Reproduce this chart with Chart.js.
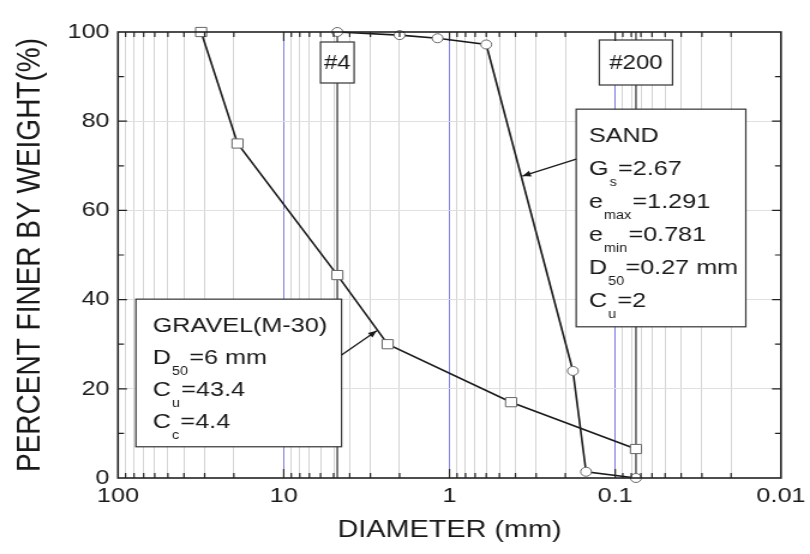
<!DOCTYPE html>
<html>
<head>
<meta charset="utf-8">
<script src="https://cdn.jsdelivr.net/npm/chart.js@4.4.1/dist/chart.umd.min.js"></script>
<style>
  html, body { margin: 0; padding: 0; background: #fff; }
  canvas { display: block; }
</style>
</head>
<body>
<!-- the source figure is stretched sideways, so the canvas is drawn narrow and widened by css -->
<canvas id="chart" width="675" height="554" style="width:810px;height:554px"></canvas>
<script>
// sieve size (mm) vs percent passing
const gravelSize = [31.5, 19, 4.75, 2.36, 0.425, 0.075];
const gravelPassing = [100, 75, 45.5, 30, 17, 6.5];
const sandSize = [4.75, 2, 1.18, 0.6, 0.18, 0.15, 0.075];
const sandPassing = [100, 99.3, 98.6, 97.2, 24, 1.4, 0];

const xDecades = [100, 10, 1, 0.1, 0.01];
const xTickLabels = ["100", "10", "1", "0.1", "0.01"];
const yTickValues = [0, 20, 40, 60, 80, 100];

const sieveLabels = ["#4", "#200"];
const sieveSizes = [4.75, 0.075];

// [text, isSubscript]
const sandNotes = [
  [["SAND", 0]],
  [["G", 0], ["s", 1], ["=2.67", 0]],
  [["e", 0], ["max", 1], ["=1.291", 0]],
  [["e", 0], ["min", 1], ["=0.781", 0]],
  [["D", 0], ["50", 1], ["=0.27 mm", 0]],
  [["C", 0], ["u", 1], ["=2", 0]]
];
const gravelNotes = [
  [["GRAVEL(M-30)", 0]],
  [["D", 0], ["50", 1], ["=6 mm", 0]],
  [["C", 0], ["u", 1], ["=43.4", 0]],
  [["C", 0], ["c", 1], ["=4.4", 0]]
];

const FONT = "'Liberation Sans', Arial, sans-serif";
const INK = "#1a1a1a";

// minor ticks 1..9 in every decade
const xTickValues = [];
for (let e = -2; e <= 1; e++) {
  for (let m = 1; m <= 9; m++) xTickValues.push(+(m * Math.pow(10, e)).toPrecision(6));
}
xTickValues.push(100);

function isDecade(v) {
  const l = Math.log10(v);
  return Math.abs(l - Math.round(l)) < 1e-6;
}

function drawRich(ctx, parts, x, y) {
  let cx = x;
  parts.forEach(([text, sub]) => {
    if (sub) {
      ctx.font = "12px " + FONT;
      ctx.fillText(text, cx + 1, y + 11);
      cx += ctx.measureText(text).width + 2;
    } else {
      ctx.font = "21px " + FONT;
      ctx.fillText(text, cx, y);
      cx += ctx.measureText(text).width;
    }
  });
}

function drawBox(ctx, l, t, r, b) {
  ctx.fillStyle = "#fff";
  ctx.fillRect(l, t, r - l, b - t);
  ctx.strokeStyle = "#333";
  ctx.lineWidth = 1.2;
  ctx.strokeRect(l, t, r - l, b - t);
}

function drawArrow(ctx, x0, y0, x1, y1) {
  ctx.strokeStyle = INK;
  ctx.fillStyle = INK;
  ctx.lineWidth = 1.3;
  ctx.beginPath();
  ctx.moveTo(x0, y0);
  ctx.lineTo(x1, y1);
  ctx.stroke();
  const ang = Math.atan2(y1 - y0, x1 - x0);
  ctx.beginPath();
  ctx.moveTo(x1, y1);
  ctx.lineTo(x1 - 7 * Math.cos(ang) + 3 * Math.sin(ang), y1 - 7 * Math.sin(ang) - 3 * Math.cos(ang));
  ctx.lineTo(x1 - 7 * Math.cos(ang) - 3 * Math.sin(ang), y1 - 7 * Math.sin(ang) + 3 * Math.cos(ang));
  ctx.closePath();
  ctx.fill();
}

const notesPlugin = {
  id: "notes",
  beforeDatasetsDraw(chart) {
    const { ctx, chartArea: a, scales: { x } } = chart;
    ctx.save();
    ctx.strokeStyle = "#555";
    ctx.lineWidth = 1.5;
    sieveSizes.forEach(s => {
      const px = x.getPixelForValue(s);
      ctx.beginPath();
      ctx.moveTo(px, a.top);
      ctx.lineTo(px, a.bottom);
      ctx.stroke();
    });
    ctx.restore();
  },
  afterDatasetsDraw(chart) {
    const { ctx, chartArea: a, scales: { x, y } } = chart;
    ctx.save();
    ctx.textBaseline = "alphabetic";
    ctx.textAlign = "left";

    // SAND box
    let l = x.getPixelForValue(0.172), r = x.getPixelForValue(0.0163);
    let t = y.getPixelForValue(82.7), b = y.getPixelForValue(33.9);
    drawBox(ctx, l, t, r, b);
    ctx.fillStyle = INK;
    sandNotes.forEach((row, i) => drawRich(ctx, row, l + 10.5, t + 33 + i * 33));
    drawArrow(ctx, l, y.getPixelForValue(71.5), x.getPixelForValue(0.363), y.getPixelForValue(67.7));

    // GRAVEL box
    l = x.getPixelForValue(78); r = x.getPixelForValue(4.48);
    t = y.getPixelForValue(40.1); b = y.getPixelForValue(7.0);
    drawBox(ctx, l, t, r, b);
    ctx.fillStyle = INK;
    gravelNotes.forEach((row, i) => drawRich(ctx, row, l + 14, t + 33 + i * 32));
    drawArrow(ctx, r, y.getPixelForValue(27.6), x.getPixelForValue(2.75), y.getPixelForValue(33.0));

    // sieve labels
    const boxW = [28, 61], boxTop = [10, 8], boxH = [41, 45];
    sieveLabels.forEach((lab, i) => {
      const px = x.getPixelForValue(sieveSizes[i]);
      const bt = a.top + boxTop[i];
      drawBox(ctx, px - boxW[i] / 2, bt, px + boxW[i] / 2, bt + boxH[i]);
      ctx.fillStyle = INK;
      ctx.font = "20px " + FONT;
      ctx.textAlign = "center";
      ctx.textBaseline = "middle";
      ctx.fillText(lab, px, bt + boxH[i] / 2 + 1);
      ctx.textAlign = "left";
      ctx.textBaseline = "alphabetic";
    });
    ctx.restore();
  },
  afterDraw(chart) {
    const { ctx, chartArea: a, scales: { x, y } } = chart;
    ctx.save();
    ctx.strokeStyle = "#222";
    ctx.lineWidth = 1.2;
    ctx.beginPath();
    x.ticks.forEach(tk => {
      if (tk.value <= 0.01 || tk.value >= 100) return;
      const px = x.getPixelForValue(tk.value);
      const len = isDecade(tk.value) ? 9 : 5;
      ctx.moveTo(px, a.bottom); ctx.lineTo(px, a.bottom - len);
      ctx.moveTo(px, a.top); ctx.lineTo(px, a.top + len);
    });
    for (let v = 10; v < 100; v += 10) {
      const py = y.getPixelForValue(v);
      const len = v % 20 === 0 ? 7.5 : 5;
      ctx.moveTo(a.left, py); ctx.lineTo(a.left + len, py);
      ctx.moveTo(a.right, py); ctx.lineTo(a.right - len, py);
    }
    ctx.stroke();
    ctx.lineWidth = 1.6;
    ctx.strokeRect(a.left, a.top, a.right - a.left, a.bottom - a.top);
    ctx.restore();
  }
};

const tickFont = { family: FONT, size: 21 };

new Chart(document.getElementById("chart"), {
  type: "scatter",
  data: {
    datasets: [
      {
        label: "GRAVEL",
        data: gravelSize.map((d, i) => ({ x: d, y: gravelPassing[i] })),
        showLine: true,
        borderColor: INK,
        borderWidth: 1.6,
        pointStyle: "rect",
        pointRadius: 6.5,
        pointBackgroundColor: "#fff",
        pointBorderColor: "#666",
        pointBorderWidth: 1,
        clip: false
      },
      {
        label: "SAND",
        data: sandSize.map((d, i) => ({ x: d, y: sandPassing[i] })),
        showLine: true,
        borderColor: INK,
        borderWidth: 1.6,
        pointStyle: "circle",
        pointRadius: 4.5,
        pointBackgroundColor: "#fff",
        pointBorderColor: "#666",
        pointBorderWidth: 1,
        clip: false
      }
    ]
  },
  options: {
    responsive: false,
    devicePixelRatio: 1,
    animation: false,
    layout: { padding: { top: 32, right: 24.2, left: 0, bottom: 0 } },
    plugins: {
      legend: { display: false },
      tooltip: { enabled: false }
    },
    scales: {
      x: {
        type: "logarithmic",
        reverse: true,
        min: 0.01,
        max: 100,
        afterBuildTicks: s => { s.ticks = xTickValues.map(v => ({ value: v })); },
        afterFit: s => { s.height = 76; },
        ticks: {
          autoSkip: false,
          maxRotation: 0,
          padding: 6,
          font: tickFont,
          color: INK,
          callback: v => {
            const i = xDecades.findIndex(d => Math.abs(d - v) / d < 1e-6);
            return i < 0 ? "" : xTickLabels[i];
          }
        },
        grid: {
          drawTicks: false,
          lineWidth: 1,
          color: c => isDecade(c.tick.value) ? "#7c7ce0" : "#d4d4d4"
        },
        border: { display: false },
        title: {
          display: true,
          text: "DIAMETER (mm)",
          color: INK,
          font: { family: FONT, size: 24 },
          padding: { top: 0, bottom: 9 }
        }
      },
      y: {
        min: 0,
        max: 100,
        afterBuildTicks: s => { s.ticks = yTickValues.map(v => ({ value: v })); },
        afterFit: s => { s.width = 98.3; },
        ticks: { padding: 7, font: tickFont, color: INK },
        grid: {
          drawTicks: false,
          color: c => (c.tick.value > 0 && c.tick.value < 100) ? "#e0e0e0" : "rgba(0,0,0,0)"
        },
        border: { display: false },
        title: {
          display: true,
          text: "PERCENT FINER BY WEIGHT(%)",
          color: INK,
          font: { family: FONT, size: 28 },
          padding: { top: 8, bottom: 0 }
        }
      }
    }
  },
  plugins: [notesPlugin]
});
</script>
</body>
</html>
